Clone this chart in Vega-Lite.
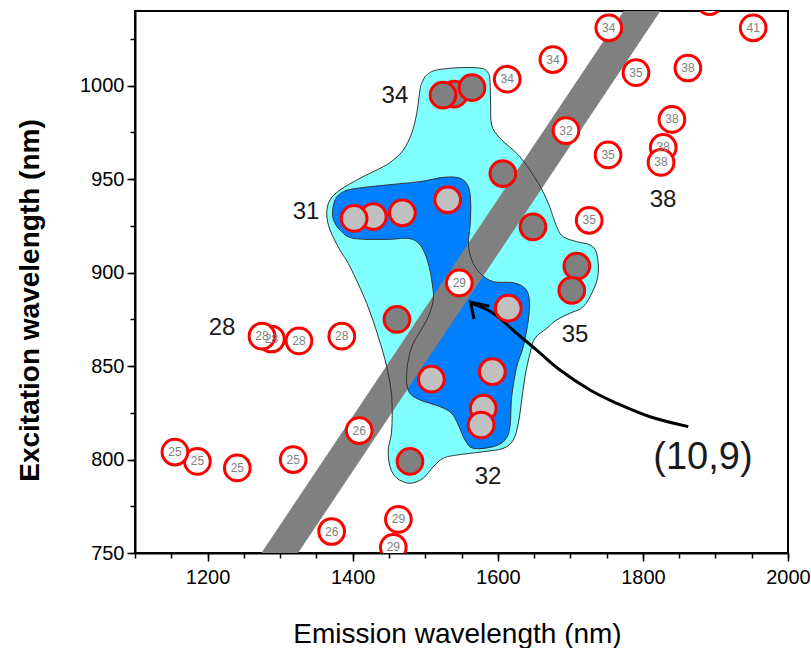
{
  "$schema": "https://vega.github.io/schema/vega-lite/v6.json",
  "width": 653,
  "height": 542,
  "autosize": {"type": "none"},
  "padding": {"left": 135, "top": 11, "right": 23, "bottom": 95},
  "background": "#ffffff",
  "config": {
    "font": "Liberation Sans",
    "view": {"stroke": "#000000", "strokeWidth": 2},
    "axis": {"domainColor": "#000000", "domainWidth": 2, "tickColor": "#000000", "tickWidth": 1.5, "labelColor": "#000000", "labelFont": "Liberation Sans", "titleFont": "Liberation Sans", "titleColor": "#000000", "grid": false, "labelFlush": false}
  },
  "datasets": {
    "blobs": [
      {"shape": "cyan", "ord": 1, "x": 1495.1, "y": 1001.3},
      {"shape": "cyan", "ord": 2, "x": 1502, "y": 1005.8},
      {"shape": "cyan", "ord": 3, "x": 1515.8, "y": 1008.4},
      {"shape": "cyan", "ord": 4, "x": 1547.9, "y": 1009.7},
      {"shape": "cyan", "ord": 5, "x": 1577.8, "y": 1009.3},
      {"shape": "cyan", "ord": 6, "x": 1586.9, "y": 1006.7},
      {"shape": "cyan", "ord": 7, "x": 1589.3, "y": 1002.2},
      {"shape": "cyan", "ord": 8, "x": 1590.2, "y": 989.7},
      {"shape": "cyan", "ord": 9, "x": 1591.6, "y": 979},
      {"shape": "cyan", "ord": 10, "x": 1603.1, "y": 971.9},
      {"shape": "cyan", "ord": 11, "x": 1630.6, "y": 962},
      {"shape": "cyan", "ord": 12, "x": 1655.9, "y": 947.8},
      {"shape": "cyan", "ord": 13, "x": 1669.6, "y": 937.1},
      {"shape": "cyan", "ord": 14, "x": 1681.2, "y": 924.6},
      {"shape": "cyan", "ord": 15, "x": 1690.3, "y": 919.2},
      {"shape": "cyan", "ord": 16, "x": 1708.8, "y": 916.6},
      {"shape": "cyan", "ord": 17, "x": 1727.1, "y": 914.8},
      {"shape": "cyan", "ord": 18, "x": 1736.3, "y": 910.4},
      {"shape": "cyan", "ord": 19, "x": 1738.5, "y": 899.7},
      {"shape": "cyan", "ord": 20, "x": 1731.7, "y": 890.7},
      {"shape": "cyan", "ord": 21, "x": 1717.9, "y": 881.8},
      {"shape": "cyan", "ord": 22, "x": 1699.5, "y": 878.3},
      {"shape": "cyan", "ord": 23, "x": 1681.2, "y": 874.7},
      {"shape": "cyan", "ord": 24, "x": 1667.4, "y": 870.2},
      {"shape": "cyan", "ord": 25, "x": 1651.3, "y": 864.9},
      {"shape": "cyan", "ord": 26, "x": 1644.4, "y": 856.8},
      {"shape": "cyan", "ord": 27, "x": 1637.5, "y": 844.3},
      {"shape": "cyan", "ord": 28, "x": 1633, "y": 831.9},
      {"shape": "cyan", "ord": 29, "x": 1628.3, "y": 819.4},
      {"shape": "cyan", "ord": 30, "x": 1621.4, "y": 810.5},
      {"shape": "cyan", "ord": 31, "x": 1607.6, "y": 806},
      {"shape": "cyan", "ord": 32, "x": 1580, "y": 804.2},
      {"shape": "cyan", "ord": 33, "x": 1543.4, "y": 802.4},
      {"shape": "cyan", "ord": 34, "x": 1524.9, "y": 800.7},
      {"shape": "cyan", "ord": 35, "x": 1511.1, "y": 796.2},
      {"shape": "cyan", "ord": 36, "x": 1497.4, "y": 790.1},
      {"shape": "cyan", "ord": 37, "x": 1479, "y": 787.3},
      {"shape": "cyan", "ord": 38, "x": 1460.7, "y": 790.1},
      {"shape": "cyan", "ord": 39, "x": 1451.5, "y": 796.2},
      {"shape": "cyan", "ord": 40, "x": 1449.1, "y": 805.1},
      {"shape": "cyan", "ord": 41, "x": 1453.8, "y": 815.8},
      {"shape": "cyan", "ord": 42, "x": 1453.8, "y": 833.6},
      {"shape": "cyan", "ord": 43, "x": 1446.9, "y": 849.7},
      {"shape": "cyan", "ord": 44, "x": 1435.3, "y": 865.7},
      {"shape": "cyan", "ord": 45, "x": 1419.3, "y": 883.6},
      {"shape": "cyan", "ord": 46, "x": 1396.3, "y": 903.2},
      {"shape": "cyan", "ord": 47, "x": 1382.5, "y": 912.1},
      {"shape": "cyan", "ord": 48, "x": 1368.8, "y": 922.8},
      {"shape": "cyan", "ord": 49, "x": 1364.2, "y": 931.8},
      {"shape": "cyan", "ord": 50, "x": 1368.8, "y": 938.9},
      {"shape": "cyan", "ord": 51, "x": 1382.5, "y": 944.2},
      {"shape": "cyan", "ord": 52, "x": 1410.1, "y": 950.5},
      {"shape": "cyan", "ord": 53, "x": 1442.2, "y": 956.7},
      {"shape": "cyan", "ord": 54, "x": 1456, "y": 960.3},
      {"shape": "cyan", "ord": 55, "x": 1469.8, "y": 965.6},
      {"shape": "cyan", "ord": 56, "x": 1481.4, "y": 974.6},
      {"shape": "cyan", "ord": 57, "x": 1488.3, "y": 985.3},
      {"shape": "cyan", "ord": 58, "x": 1492.8, "y": 997.7},
      {"shape": "blue", "ord": 1, "x": 1372.5, "y": 929.9},
      {"shape": "blue", "ord": 2, "x": 1375.7, "y": 938.9},
      {"shape": "blue", "ord": 3, "x": 1387.1, "y": 943.3},
      {"shape": "blue", "ord": 4, "x": 1405.6, "y": 945.1},
      {"shape": "blue", "ord": 5, "x": 1446.9, "y": 946.9},
      {"shape": "blue", "ord": 6, "x": 1492.8, "y": 948.7},
      {"shape": "blue", "ord": 7, "x": 1524.9, "y": 951},
      {"shape": "blue", "ord": 8, "x": 1547.9, "y": 950.5},
      {"shape": "blue", "ord": 9, "x": 1559.4, "y": 946},
      {"shape": "blue", "ord": 10, "x": 1562.7, "y": 937.1},
      {"shape": "blue", "ord": 11, "x": 1561.7, "y": 924.6},
      {"shape": "blue", "ord": 12, "x": 1559.4, "y": 915.7},
      {"shape": "blue", "ord": 13, "x": 1564.1, "y": 906.8},
      {"shape": "blue", "ord": 14, "x": 1575.5, "y": 899.7},
      {"shape": "blue", "ord": 15, "x": 1593.8, "y": 895.2},
      {"shape": "blue", "ord": 16, "x": 1621.4, "y": 894.6},
      {"shape": "blue", "ord": 17, "x": 1637.5, "y": 891.6},
      {"shape": "blue", "ord": 18, "x": 1643.5, "y": 885.4},
      {"shape": "blue", "ord": 19, "x": 1642.1, "y": 874.7},
      {"shape": "blue", "ord": 20, "x": 1635.2, "y": 860.4},
      {"shape": "blue", "ord": 21, "x": 1626.1, "y": 849.7},
      {"shape": "blue", "ord": 22, "x": 1619.2, "y": 833.6},
      {"shape": "blue", "ord": 23, "x": 1616.8, "y": 817.6},
      {"shape": "blue", "ord": 24, "x": 1610, "y": 810.5},
      {"shape": "blue", "ord": 25, "x": 1593.8, "y": 806.9},
      {"shape": "blue", "ord": 26, "x": 1566.3, "y": 806},
      {"shape": "blue", "ord": 27, "x": 1554.8, "y": 810.5},
      {"shape": "blue", "ord": 28, "x": 1545.6, "y": 818.5},
      {"shape": "blue", "ord": 29, "x": 1536.5, "y": 824.7},
      {"shape": "blue", "ord": 30, "x": 1520.4, "y": 828.3},
      {"shape": "blue", "ord": 31, "x": 1492.8, "y": 831.9},
      {"shape": "blue", "ord": 32, "x": 1479, "y": 835.4},
      {"shape": "blue", "ord": 33, "x": 1474.5, "y": 840.8},
      {"shape": "blue", "ord": 34, "x": 1474.5, "y": 846.1},
      {"shape": "blue", "ord": 35, "x": 1476.7, "y": 853.3},
      {"shape": "blue", "ord": 36, "x": 1483.6, "y": 862.2},
      {"shape": "blue", "ord": 37, "x": 1502, "y": 874.7},
      {"shape": "blue", "ord": 38, "x": 1511.1, "y": 885.4},
      {"shape": "blue", "ord": 39, "x": 1508.9, "y": 896.1},
      {"shape": "blue", "ord": 40, "x": 1504.2, "y": 905},
      {"shape": "blue", "ord": 41, "x": 1497.4, "y": 912.1},
      {"shape": "blue", "ord": 42, "x": 1488.3, "y": 916.6},
      {"shape": "blue", "ord": 43, "x": 1474.5, "y": 918.4},
      {"shape": "blue", "ord": 44, "x": 1446.9, "y": 917.8},
      {"shape": "blue", "ord": 45, "x": 1400.9, "y": 918.4},
      {"shape": "blue", "ord": 46, "x": 1382.5, "y": 922.8}
    ],
    "band": [
      {"x": 1247.8, "y": 720},
      {"x": 1850.5, "y": 1070}
    ],
    "arrow": [
      {"ord": 1, "x": 1862.6, "y": 817.6},
      {"ord": 2, "x": 1809.8, "y": 822.9},
      {"ord": 3, "x": 1763.9, "y": 830.1},
      {"ord": 4, "x": 1727.1, "y": 837.2},
      {"ord": 5, "x": 1685.8, "y": 847.9},
      {"ord": 6, "x": 1653.6, "y": 858.6},
      {"ord": 7, "x": 1626.1, "y": 867.5},
      {"ord": 8, "x": 1593.8, "y": 878.3},
      {"ord": 9, "x": 1564.1, "y": 883.6}
    ],
    "arrowhead": [
      {"ord": 1, "x": 1567.2, "y": 875.2},
      {"ord": 2, "x": 1562.5, "y": 884.2},
      {"ord": 3, "x": 1588.4, "y": 882.1}
    ],
    "points": [
      {"kind": "open", "label": "25", "x": 1186, "y": 799},
      {"kind": "open", "label": "25", "x": 1155, "y": 804},
      {"kind": "open", "label": "25", "x": 1241, "y": 795.5},
      {"kind": "open", "label": "25", "x": 1318, "y": 800},
      {"kind": "open", "label": "26", "x": 1409, "y": 815.5},
      {"kind": "open", "label": "26", "x": 1371, "y": 761.5},
      {"kind": "open", "label": "28", "x": 1288, "y": 864.5},
      {"kind": "open", "label": "28", "x": 1275, "y": 866},
      {"kind": "open", "label": "28", "x": 1326, "y": 863.5},
      {"kind": "open", "label": "28", "x": 1385, "y": 866},
      {"kind": "open", "label": "29", "x": 1456, "y": 753},
      {"kind": "open", "label": "29", "x": 1463, "y": 768},
      {"kind": "open", "label": "29", "x": 1547, "y": 894.5},
      {"kind": "open", "label": "32", "x": 1694, "y": 976},
      {"kind": "open", "label": "34", "x": 1613, "y": 1003.5},
      {"kind": "open", "label": "34", "x": 1676, "y": 1014},
      {"kind": "open", "label": "34", "x": 1753, "y": 1031},
      {"kind": "open", "label": "35", "x": 1790.5, "y": 1007},
      {"kind": "open", "label": "35", "x": 1752, "y": 963},
      {"kind": "open", "label": "35", "x": 1726, "y": 928},
      {"kind": "open", "label": "38", "x": 1862, "y": 1009.5},
      {"kind": "open", "label": "38", "x": 1840, "y": 982},
      {"kind": "open", "label": "38", "x": 1828, "y": 967},
      {"kind": "open", "label": "38", "x": 1825, "y": 959},
      {"kind": "open", "label": "41", "x": 1952, "y": 1031},
      {"kind": "open", "label": "", "x": 1892, "y": 1045},
      {"kind": "light", "label": "", "x": 1428.5, "y": 930},
      {"kind": "light", "label": "", "x": 1402, "y": 929},
      {"kind": "light", "label": "", "x": 1468.5, "y": 932},
      {"kind": "light", "label": "", "x": 1531, "y": 939},
      {"kind": "light", "label": "", "x": 1508.5, "y": 843},
      {"kind": "light", "label": "", "x": 1614.5, "y": 881},
      {"kind": "light", "label": "", "x": 1592.5, "y": 847},
      {"kind": "light", "label": "", "x": 1580, "y": 827.5},
      {"kind": "light", "label": "", "x": 1577, "y": 818.5},
      {"kind": "dark", "label": "", "x": 1540, "y": 995.5},
      {"kind": "dark", "label": "", "x": 1564.5, "y": 999},
      {"kind": "dark", "label": "", "x": 1524.5, "y": 995},
      {"kind": "dark", "label": "", "x": 1607, "y": 953},
      {"kind": "dark", "label": "", "x": 1648.5, "y": 924.5},
      {"kind": "dark", "label": "", "x": 1709, "y": 903.5},
      {"kind": "dark", "label": "", "x": 1702, "y": 890.5},
      {"kind": "dark", "label": "", "x": 1461, "y": 875},
      {"kind": "dark", "label": "", "x": 1479, "y": 799}
    ],
    "notes": [
      {"text": "34", "x": 1458.3, "y": 994.5},
      {"text": "31", "x": 1335.7, "y": 932.4},
      {"text": "28", "x": 1219.9, "y": 870.4},
      {"text": "38", "x": 1827.7, "y": 938.9},
      {"text": "35", "x": 1706.4, "y": 866.6},
      {"text": "32", "x": 1586.5, "y": 790.7}
    ],
    "bignote": [
      {"text": "(10,9)", "x": 1882.8, "y": 800.8}
    ]
  },
  "encoding": {
    "x": {"field": "x", "type": "quantitative", "scale": {"domain": [1100, 2000], "nice": false, "zero": false}, "axis": null},
    "y": {"field": "y", "type": "quantitative", "scale": {"domain": [750, 1040], "nice": false, "zero": false}, "axis": null}
  },
  "layer": [
    {
      "data": {"name": "blobs"},
      "transform": [{"filter": "datum.shape == 'cyan'"}],
      "mark": {"type": "line", "interpolate": "cardinal-closed", "fill": "#80ffff", "stroke": null, "strokeWidth": 0},
      "encoding": {"order": {"field": "ord", "type": "quantitative"}}
    },
    {
      "data": {"name": "blobs"},
      "transform": [{"filter": "datum.shape == 'blue'"}],
      "mark": {"type": "line", "interpolate": "cardinal-closed", "fill": "#0080ff", "stroke": null, "strokeWidth": 0},
      "encoding": {"order": {"field": "ord", "type": "quantitative"}}
    },
    {
      "data": {"name": "band"},
      "mark": {"type": "line", "color": "#808080", "strokeWidth": 30.5, "strokeCap": "butt", "clip": true},
      "encoding": {
        "x": {"field": "x", "type": "quantitative", "scale": {"domain": [1100, 2000], "nice": false, "zero": false},
          "axis": {"orient": "bottom", "values": [1100, 1150, 1200, 1250, 1300, 1350, 1400, 1450, 1500, 1550, 1600, 1650, 1700, 1750, 1800, 1850, 1900, 1950, 2000], "labels": false, "tickSize": 5, "title": null, "domain": false}},
        "y": {"field": "y", "type": "quantitative", "scale": {"domain": [750, 1040], "nice": false, "zero": false},
          "axis": {"orient": "left", "values": [750, 775, 800, 825, 850, 875, 900, 925, 950, 975, 1000, 1025], "labels": false, "tickSize": 5, "title": null, "domain": false}}
      }
    },
    {
      "data": {"name": "blobs"},
      "mark": {"type": "line", "interpolate": "cardinal-closed", "color": "#333333", "strokeWidth": 1},
      "encoding": {"detail": {"field": "shape"}, "order": {"field": "ord", "type": "quantitative"}}
    },
    {
      "data": {"name": "arrow"},
      "mark": {"type": "line", "interpolate": "cardinal", "color": "#000000", "strokeWidth": 3},
      "encoding": {"order": {"field": "ord", "type": "quantitative"}}
    },
    {
      "data": {"name": "arrowhead"},
      "mark": {"type": "line", "color": "#000000", "strokeWidth": 3, "strokeJoin": "miter"},
      "encoding": {"order": {"field": "ord", "type": "quantitative"}}
    },
    {
      "data": {"name": "points"},
      "mark": {"type": "point", "shape": "circle", "filled": true, "size": 660, "stroke": "#ff0000", "strokeWidth": 3, "opacity": 1, "clip": true},
      "encoding": {
        "x": {"field": "x", "type": "quantitative", "scale": {"domain": [1100, 2000], "nice": false, "zero": false},
          "axis": {"orient": "bottom", "values": [1200, 1400, 1600, 1800, 2000], "format": "d", "tickSize": 8, "labelFontSize": 20, "labelPadding": 6, "title": "Emission wavelength (nm)", "titleFontSize": 28, "titleFontWeight": "normal", "titleX": 322, "titleY": 89, "titleAlign": "center", "titleBaseline": "alphabetic"}},
        "y": {"field": "y", "type": "quantitative", "scale": {"domain": [750, 1040], "nice": false, "zero": false},
          "axis": {"orient": "left", "values": [750, 800, 850, 900, 950, 1000], "format": "d", "tickSize": 8, "labelFontSize": 20, "labelPadding": 3, "title": "Excitation wavelength (nm)", "titleFontSize": 28, "titleFontWeight": "bold", "titleX": -105, "titleY": 289, "titleAngle": -90, "titleAlign": "center", "titleBaseline": "middle"}},
        "color": {"field": "kind", "type": "nominal", "scale": {"domain": ["open", "light", "dark"], "range": ["#ffffff", "#c0c0c0", "#808080"]}, "legend": null}
      }
    },
    {
      "data": {"name": "points"},
      "transform": [{"filter": "datum.label != ''"}],
      "mark": {"type": "text", "fontSize": 12, "color": "#808080", "align": "center", "baseline": "middle", "clip": true},
      "encoding": {"text": {"field": "label"}}
    },
    {
      "data": {"name": "notes"},
      "mark": {"type": "text", "fontSize": 24, "color": "#1a1a1a", "align": "center", "baseline": "middle"},
      "encoding": {"text": {"field": "text"}}
    },
    {
      "data": {"name": "bignote"},
      "mark": {"type": "text", "fontSize": 38, "color": "#1a1a1a", "align": "center", "baseline": "middle"},
      "encoding": {"text": {"field": "text"}}
    }
  ],
  "resolve": {"axis": {"x": "independent", "y": "independent"}}
}
